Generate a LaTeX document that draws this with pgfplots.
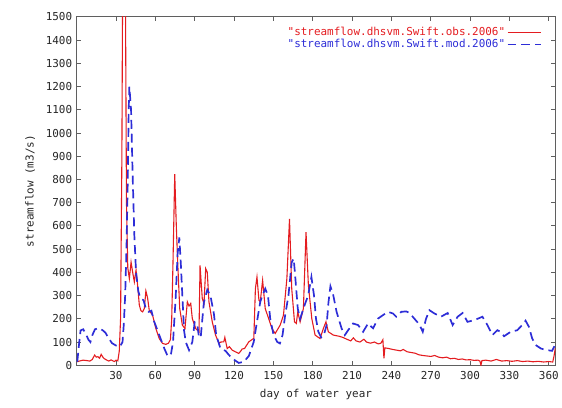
\documentclass[border=0pt]{standalone}
\usepackage{pgfplots}
\pgfplotsset{compat=1.18}
\usepackage{fontspec}
\setmainfont{DejaVu Sans Mono}[Ligatures=TeXOff]
\definecolor{obsred}{RGB}{228,28,32}
\definecolor{modblue}{RGB}{45,45,215}
\definecolor{axgray}{RGB}{95,95,95}
\begin{document}
\begin{tikzpicture}
\begin{axis}[
    scale only axis,
    width=481pt, height=350pt,
    xmin=0, xmax=365,
    ymin=0, ymax=1500,
    xtick={30,60,...,360},
    ytick={0,100,...,1500},
    tick align=inside,
    major tick length=4pt,
    axis line style={axgray, line width=0.9pt},
    tick style={axgray, line width=0.9pt},
    /pgf/number format/assume math mode=true,
    /pgf/number format/1000 sep={},
    scaled ticks=false,
    tick label style={font=\fontsize{11}{13}\selectfont, black!85},
    label style={font=\fontsize{11}{13}\selectfont, black!85},
    xticklabel style={yshift=-3pt},
    yticklabel style={xshift=-1pt},
    xlabel={day of water year},
    ylabel={streamflow (m3/s)},
    xlabel style={yshift=-2pt},
    ylabel style={yshift=4pt},
    legend plot pos=right,
    legend cell align=right,
    legend image code/.code={\draw[#1] (0pt,0pt) -- (34pt,0pt);},
    legend style={at={(rel axis cs:1,1)}, anchor=north east,
        xshift=-10pt, yshift=-7pt, draw=none, fill=none,
        font=\fontsize{11}{13}\selectfont, row sep=-1pt,
        nodes={inner sep=1.5pt},
        /tikz/every even column/.append style={column sep=5pt}},
]

% observed
\addplot[obsred, line width=1.1pt] coordinates {
(0.5,15) (2,18) (5,22) (8,20) (10,18) (12,25) (13.7,44) (15,35) (16.2,37)
(17.5,30) (18.7,47) (20,35) (21.2,28) (23,22) (24.5,18) (26.3,23) (28,18)
(29,16) (30,22) (31.4,19) (32.5,60) (33.5,200) (34.5,900) (35.5,2200)
(36.5,2600) (37.3,1500) (38,700) (39,420) (40.2,373) (41.5,444) (42.7,401)
(44,359) (45.3,410) (46.5,344) (47.8,259) (49,235) (50.3,230) (51.6,244)
(52.8,320) (54.1,290) (55.4,235) (57.9,216) (60.4,158) (63,115) (65.5,94)
(68,90) (70,95) (71.5,110) (72.5,200) (73.5,450) (74.8,823) (76,600) (77,450)
(78.6,244) (80.6,173) (82.6,158) (84.4,273) (85.7,255) (87,266) (88.2,201)
(90.8,158) (93.3,144) (94.1,430) (95.8,287) (97.1,265) (98.4,416) (99.6,401)
(100.9,273) (103.4,187) (105.9,130) (108.5,95) (110,100) (112.2,101) (113,120)
(114.8,72) (116.5,80) (118.6,65) (121,58) (123.6,51) (125,60) (126.2,70)
(128,72) (131.3,101) (135.1,116) (136.3,330) (137.5,380) (139,280) (140,273)
(141.8,366) (143.8,244) (146.4,201) (148.9,158) (151.4,137) (155.2,173)
(157.7,216) (160.3,373) (162.3,630) (164,330) (166.1,187) (167.5,180)
(168.6,230) (170.4,187) (172.9,244) (174.9,573) (176.7,344) (179.3,201)
(181.8,130) (185.6,115) (188.1,158) (190.1,187) (191.9,144) (195.7,130)
(200,125) (203,120) (206,112) (209,105) (211,118) (213,105) (216,100) (219,112)
(221,100) (224,95) (227,100) (230,92) (232,95) (233.5,110) (234.3,30) (235,75)
(238,72) (241,68) (244,65) (247,62) (249,68) (252,58) (255,55) (258,52)
(261,45) (264,42) (267,40) (270,38) (273,42) (276,35) (279,32) (282,35)
(285,28) (288,30) (291,25) (294,27) (297,23) (300,24) (303,21) (306,22)
(307.5,18) (308.3,0) (309,20) (312,22) (316,18) (320,25) (324,18) (328,20)
(332,17) (336,20) (340,16) (344,18) (348,15) (352,17) (356,14) (360,16)
(363,14) (364,40) (365,75)
};
\addlegendentry{\textcolor{obsred}{"streamflow.dhsvm.Swift.obs.2006"}}

% modelled
\addplot[modblue, line width=1.7pt, dash pattern=on 9pt off 5pt] coordinates {
(0.5,15) (2,100) (3,150) (5,155) (7,135) (9,110) (10.5,100) (12,130) (14,155)
(17,160) (20,150) (22,140) (24,120) (27,95) (30,85) (33,80) (35,100) (36,180)
(37,300) (38,500) (39,800) (39.7,1100) (40.2,1200) (41.5,1100) (42.7,820)
(44,560) (45.3,400) (47,320) (48.5,290) (51,280) (53,240) (55,230) (57,235)
(59,190) (61,160) (63,130) (65,100) (67,70) (69,45) (70.5,38) (72,50)
(73.5,100) (75.5,290) (77,480) (78.3,550) (79.5,430) (80.6,300) (81.9,150)
(83.2,100) (85.7,65) (88.2,100) (90,185) (92,175) (93.3,120) (94.6,120)
(97,270) (99.6,325) (102,300) (104.7,220) (106.4,130) (109.7,72) (113.5,62)
(116,45) (118.6,30) (121,20) (123.6,10) (127.5,15) (131.3,40) (135,100)
(137.5,187) (140,273) (141.3,294) (143.8,330) (145.9,300) (147.6,200)
(150.2,130) (153,100) (155,94) (157,130) (159,216) (161.5,300) (164,444)
(165.5,459) (166.6,387) (168.6,244) (170.4,200) (172.1,230) (174.2,265)
(176.5,300) (179,380) (181,300) (182.5,200) (184.3,144) (186.5,120)
(188.5,130) (190.6,173) (192,270) (193.5,340) (195.7,301) (198.2,230)
(202,159) (204.5,130) (207,151) (210.8,180) (214.6,173) (218.4,144)
(222.2,180) (226,159) (229.8,201) (233.6,216) (237.4,230) (241.2,223)
(243.7,209) (247.5,230) (251.3,232) (253.8,225) (257.6,200) (261.4,175)
(263.9,144) (266.4,200) (269,237) (272.8,223) (277.8,209) (282.9,225)
(286.7,173) (290.5,209) (294.3,225) (298,187) (303.1,194) (309.4,209)
(313.2,173) (317,130) (320.8,151) (323,145) (325.9,125) (330.9,144) (336,151)
(340,175) (342.3,192) (344.8,166) (347.3,116) (350,87) (354,72) (358,66)
(362.5,62) (365,90)
};
\addlegendentry{\textcolor{modblue}{"streamflow.dhsvm.Swift.mod.2006"}}

\end{axis}
\path ([shift={(-77pt,-42pt)}]current axis.south west)
    rectangle ([shift={(4pt,17pt)}]current axis.north east);
\end{tikzpicture}
\end{document}
